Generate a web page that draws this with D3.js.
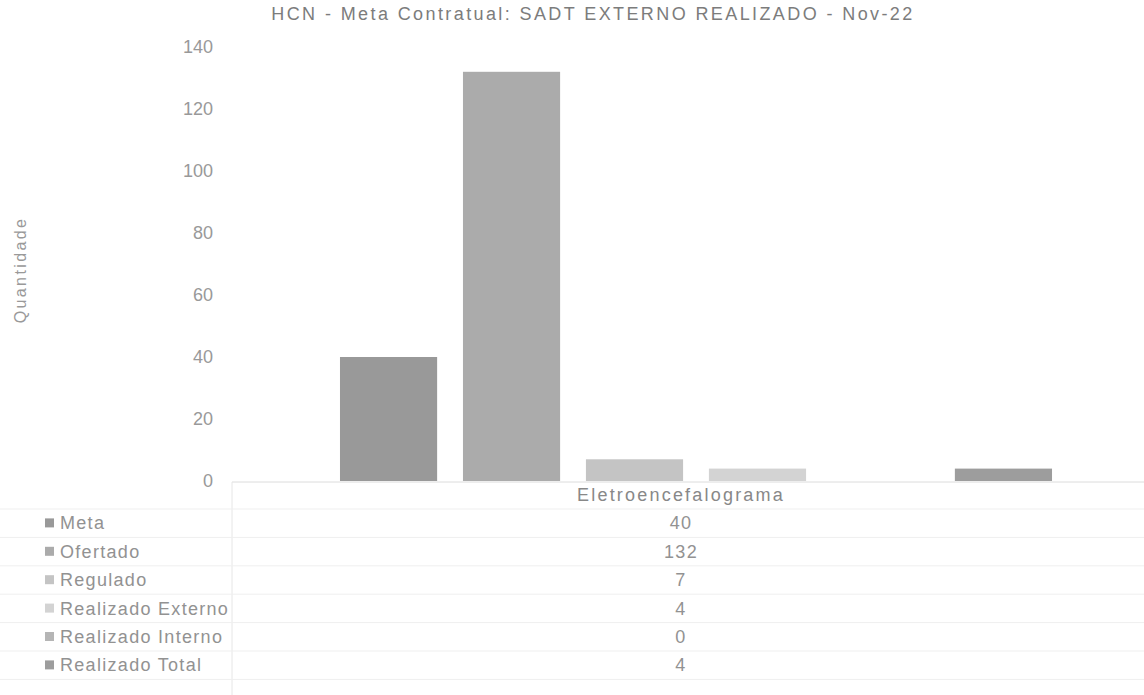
<!DOCTYPE html>
<html>
<head>
<meta charset="utf-8">
<script src="https://cdn.jsdelivr.net/npm/d3@7.9.0/dist/d3.min.js"></script>
<style>
  body { margin: 0; background: #fff; }
  svg { font-family: "Liberation Sans", Arial, sans-serif; }
</style>
</head>
<body>
<svg id="chart" width="1144" height="695"></svg>
<script>
const categories = ['Eletroencefalograma'];
const series = ['Meta', 'Ofertado', 'Regulado', 'Realizado Externo', 'Realizado Interno', 'Realizado Total'];
const values = [40, 132, 7, 4, 0, 4];
const colors = ['#999999', '#ababab', '#c4c4c4', '#d3d3d3', '#b5b5b5', '#9d9d9d'];
const yTicks = [0, 20, 40, 60, 80, 100, 120, 140];

const svg = d3.select('#chart');
const font = '"Liberation Sans", Arial, sans-serif';

let tableLeft = 232;
let y = d3.scaleLinear().domain([0, 140]).range([481, 47]);

let x0 = d3.scaleBand().domain(categories).range([242, 1150])
  .paddingInner(0).paddingOuter(0.1376);
let x1 = d3.scaleBand().domain(series).range([0, x0.bandwidth()]).paddingInner(0.21);

// title
svg.append('text')
  .attr('x', 593).attr('y', 20)
  .attr('text-anchor', 'middle')
  .attr('font-size', 18)
  .attr('letter-spacing', 2.4)
  .attr('fill', '#7c7c7c')
  .text('HCN - Meta Contratual: SADT EXTERNO REALIZADO - Nov-22');

// y axis label
svg.append('text')
  .attr('transform', 'translate(26,270) rotate(-90)')
  .attr('text-anchor', 'middle')
  .attr('font-size', 16)
  .attr('letter-spacing', 2.4)
  .attr('fill', '#999')
  .text('Quantidade');

// y axis
let yAxis = d3.axisLeft(y).tickValues(yTicks).tickSize(0).tickPadding(0);
let yg = svg.append('g').attr('transform', 'translate(213,0)').call(yAxis);
yg.select('.domain').remove();
yg.selectAll('text').attr('font-size', 18).attr('fill', '#999')
  .attr('font-family', font);

// bars
let group = svg.append('g');
series.forEach((s, i) => {
  group.append('rect')
    .attr('x', x0(categories[0]) + x1(s))
    .attr('width', x1.bandwidth())
    .attr('y', y(values[i]))
    .attr('height', y(0) - y(values[i]))
    .attr('fill', colors[i]);
});

// baseline
svg.append('line')
  .attr('x1', tableLeft).attr('x2', 1144)
  .attr('y1', y(0) + 1).attr('y2', y(0) + 1)
  .attr('stroke', '#dcdcdc').attr('stroke-width', 1);

// data table
let rowH = 28.4;
let headerY = 495;
let tg = svg.append('g');

tg.append('line')
  .attr('x1', tableLeft).attr('x2', tableLeft)
  .attr('y1', y(0) + 1).attr('y2', 695)
  .attr('stroke', '#e6e6e6');

for (let r = 0; r <= series.length; r++) {
  let ly = headerY + 14 + r * rowH;
  tg.append('line')
    .attr('x1', 0).attr('x2', 1144)
    .attr('y1', ly).attr('y2', ly)
    .attr('stroke', '#efefef');
}

let colCenter = 681;
tg.append('text')
  .attr('x', colCenter).attr('y', headerY + 6)
  .attr('text-anchor', 'middle')
  .attr('font-size', 18)
  .attr('letter-spacing', 2.2)
  .attr('fill', '#888')
  .text(categories[0]);

series.forEach((s, i) => {
  let cy = headerY + (i + 1) * rowH;
  tg.append('rect')
    .attr('x', 45).attr('y', cy - 5)
    .attr('width', 9).attr('height', 9)
    .attr('fill', colors[i]);
  tg.append('text')
    .attr('x', 60).attr('y', cy + 6)
    .attr('font-size', 18)
    .attr('letter-spacing', 1.3)
    .attr('fill', '#929292')
    .text(s);
  tg.append('text')
    .attr('x', colCenter).attr('y', cy + 6)
    .attr('text-anchor', 'middle')
    .attr('font-size', 18)
    .attr('letter-spacing', 1.3)
    .attr('fill', '#929292')
    .text(values[i]);
});
</script>
</body>
</html>
